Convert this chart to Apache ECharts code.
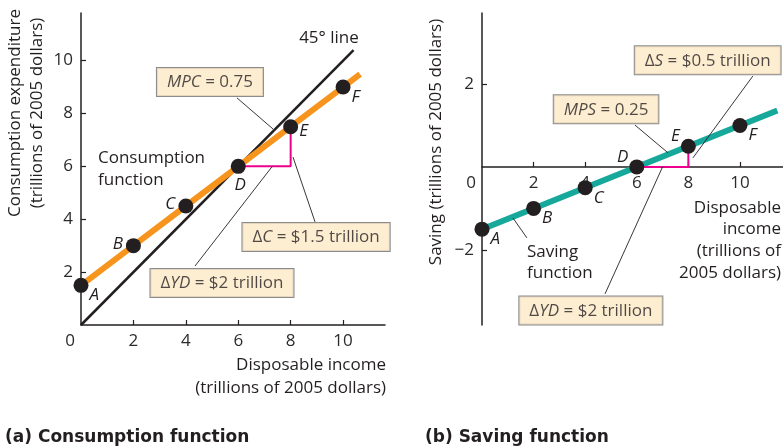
<!DOCTYPE html>
<html><head><meta charset="utf-8">
<script src="https://cdn.jsdelivr.net/npm/echarts@6/dist/echarts.min.js"></script>
<style>html,body{margin:0;padding:0;background:#fff}#c{width:783px;height:447px}</style>
</head><body><div id="c"></div>
<script>
// ---- data ----
const disposableIncome = [0, 2, 4, 6, 8, 10];
const consumption = [1.5, 3, 4.5, 6, 7.5, 9];
const saving = [-1.5, -1, -0.5, 0, 0.5, 1];
const pointNames = ['A', 'B', 'C', 'D', 'E', 'F'];
const consumptionLineEnd = [10.65, 9.49];
const line45End = [10.4, 10.4];
const savingLineEnd = [11.45, 1.36];
const xTicks = [0, 2, 4, 6, 8, 10];
const yTicksLeft = [2, 4, 6, 8, 10];
const yTicksRight = [-2, 2];

// ---- annotation anchors (data units) ----
const leftLeaders = [
  [[5.95, 8.59], [7.33, 7.41]],
  [[8.09, 6.35], [8.93, 3.9]],
  [[4.35, 2.23], [7.3, 6.0]]
];
const rightLeaders = [
  [[5.93, 1.01], [7.21, 0.34]],
  [[10.5, 2.19], [8.18, 0.22]],
  [[4.77, -3.06], [7.0, 0]],
  [[1.2, -1.23], [1.74, -1.71]]
];
const leftBoxes = [
  {at: [4.92, 9.19], text: '{i|MPC} = 0.75'},
  {at: [8.97, 3.33], text: 'Δ{i|C} = $1.5 trillion'},
  {at: [5.38, 1.59], text: 'Δ{i|YD} = $2 trillion'}
];
const rightBoxes = [
  {at: [4.81, 1.39], text: '{i|MPS} = 0.25'},
  {at: [8.75, 2.57], text: 'Δ{i|S} = $0.5 trillion'},
  {at: [4.22, -3.46], text: 'Δ{i|YD} = $2 trillion'}
];
// label placement for the points (style)
const leftLabelPos = [['right', [-2, 10]], ['left', [0, -2]], ['left', [0, -2]], ['bottom', [2, 0]], ['right', [-2, 4]], ['right', [-2, 10]]];
const rightLabelPos = [['right', [-2, 10]], ['right', [-2, 10]], ['right', [-2, 10]], ['left', [2, -10]], ['left', [2, -10]], ['right', [-2, 10]]];

const FONT = 'Open Sans';
const INK = '#231f20';
const ORANGE = '#f7941d';
const TEAL = '#16a99b';
const MAGENTA = '#ec008c';
const BOXFILL = '#fde8c6';

const chart = echarts.init(document.getElementById('c'), null, {renderer: 'canvas'});

function axisCommon(ticks, labels, zeroShift) {
  return {
    type: 'value',
    splitLine: {show: false},
    axisLine: {show: true, onZero: false, lineStyle: {color: INK, width: 1.5}},
    axisTick: {show: true, inside: true, length: 5, customValues: ticks, lineStyle: {color: INK, width: 1.2}},
    axisLabel: {
      customValues: labels, color: '#2b2b2b', fontFamily: FONT, fontSize: 17,
      formatter: v => v === 0 && zeroShift ? '{z|0}' : String(v).replace('-', '−'),
      rich: {z: {fontFamily: FONT, fontSize: 17, color: '#2b2b2b', padding: [0, zeroShift || 0, 0, 0]}}
    }
  };
}

const boxLabel = {
  show: true, position: 'inside', color: INK, fontFamily: FONT, fontSize: 17,
  backgroundColor: BOXFILL, borderColor: '#6d6e71', borderWidth: 1, padding: [6, 10, 5, 10],
  rich: {i: {fontFamily: FONT, fontSize: 17, fontStyle: 'italic', color: INK}}
};

function pointsSeries(xi, ys, pos) {
  return {
    type: 'scatter', xAxisIndex: xi, yAxisIndex: xi, symbolSize: 15, z: 10,
    itemStyle: {color: INK, opacity: 1},
    data: disposableIncome.map((x, i) => ({
      value: [x, ys[i]],
      label: {show: true, formatter: pointNames[i], position: pos[i][0], offset: pos[i][1], distance: 3,
        fontFamily: FONT, fontSize: 17, fontStyle: 'italic', color: INK}
    }))
  };
}

const rightYMin = -3.81, rightYMax = 3.71, rightGridH = 312;

const option = {
  animation: false,
  grid: [
    {left: 81, top: 13, width: 304, height: 312},
    {left: 482, top: 13, width: 301, height: rightGridH}
  ],
  xAxis: [
    Object.assign(axisCommon(xTicks.filter(v => v), xTicks, 22), {gridIndex: 0, min: 0, max: 11.6}),
    Object.assign(axisCommon(xTicks.filter(v => v), xTicks, 22), {gridIndex: 1, min: 0, max: 11.67,
      // put the horizontal axis on the zero line of the saving scale
      offset: -rightGridH * (0 - rightYMin) / (rightYMax - rightYMin)})
  ],
  yAxis: [
    Object.assign(axisCommon(yTicksLeft, yTicksLeft), {gridIndex: 0, min: 0, max: 11.8}),
    Object.assign(axisCommon(yTicksRight, yTicksRight), {gridIndex: 1, min: rightYMin, max: rightYMax})
  ],
  series: [
    {type: 'line', xAxisIndex: 0, yAxisIndex: 0, symbol: 'none', z: 3,
      lineStyle: {color: INK, width: 2.5}, data: [[0, 0], line45End]},
    {type: 'line', xAxisIndex: 0, yAxisIndex: 0, symbol: 'none', z: 4,
      lineStyle: {color: ORANGE, width: 6, cap: 'butt'},
      data: disposableIncome.map((x, i) => [x, consumption[i]]).concat([consumptionLineEnd])},
    {type: 'line', xAxisIndex: 0, yAxisIndex: 0, symbol: 'none', z: 5,
      lineStyle: {color: MAGENTA, width: 2},
      data: [[disposableIncome[3], consumption[3]], [disposableIncome[4], consumption[3]], [disposableIncome[4], consumption[4]]]},
    {type: 'lines', coordinateSystem: 'cartesian2d', xAxisIndex: 0, yAxisIndex: 0, z: 6,
      lineStyle: {color: INK, width: 0.9, opacity: 1},
      data: leftLeaders.map(c => ({coords: c}))},
    {type: 'scatter', xAxisIndex: 0, yAxisIndex: 0, symbolSize: 0, z: 20,
      data: leftBoxes.map(b => ({value: b.at, label: Object.assign({}, boxLabel, {formatter: b.text})}))},
    pointsSeries(0, consumption, leftLabelPos),

    {type: 'line', xAxisIndex: 1, yAxisIndex: 1, symbol: 'none', z: 4,
      lineStyle: {color: TEAL, width: 6, cap: 'butt'},
      data: disposableIncome.map((x, i) => [x, saving[i]]).concat([savingLineEnd])},
    {type: 'line', xAxisIndex: 1, yAxisIndex: 1, symbol: 'none', z: 5,
      lineStyle: {color: MAGENTA, width: 2},
      data: [[disposableIncome[3], saving[3]], [disposableIncome[4], saving[3]], [disposableIncome[4], saving[4]]]},
    {type: 'lines', coordinateSystem: 'cartesian2d', xAxisIndex: 1, yAxisIndex: 1, z: 6,
      lineStyle: {color: INK, width: 0.9, opacity: 1},
      data: rightLeaders.map(c => ({coords: c}))},
    {type: 'scatter', xAxisIndex: 1, yAxisIndex: 1, symbolSize: 0, z: 20,
      data: rightBoxes.map(b => ({value: b.at, label: Object.assign({}, boxLabel, {formatter: b.text})}))},
    pointsSeries(1, saving, rightLabelPos)
  ],
  graphic: [
    {type: 'text', x: 26, y: 113, rotation: Math.PI / 2,
      style: {text: 'Consumption expenditure\n(trillions of 2005 dollars)', align: 'center', verticalAlign: 'middle',
        font: '17px "Open Sans"', fill: INK, lineHeight: 22}},
    {type: 'text', x: 436, y: 142, rotation: Math.PI / 2,
      style: {text: 'Saving (trillions of 2005 dollars)', align: 'center', verticalAlign: 'middle',
        font: '17px "Open Sans"', fill: INK}},
    {type: 'text', x: 98, y: 147,
      style: {text: 'Consumption\nfunction', align: 'left', verticalAlign: 'top', font: '17px "Open Sans"', fill: INK, lineHeight: 22}},
    {type: 'text', x: 329, y: 38,
      style: {text: '45° line', align: 'center', verticalAlign: 'middle', font: '17px "Open Sans"', fill: INK}},
    {type: 'text', x: 386, y: 354,
      style: {text: 'Disposable income\n(trillions of 2005 dollars)', align: 'right', verticalAlign: 'top', font: '17px "Open Sans"', fill: INK, lineHeight: 23}},
    {type: 'text', x: 781, y: 197,
      style: {text: 'Disposable\nincome\n(trillions of\n2005 dollars)', align: 'right', verticalAlign: 'top', font: '17px "Open Sans"', fill: INK, lineHeight: 21.7}},
    {type: 'text', x: 527, y: 241,
      style: {text: 'Saving\nfunction', align: 'left', verticalAlign: 'top', font: '17px "Open Sans"', fill: INK, lineHeight: 21.5}},
    {type: 'text', x: 5, y: 438,
      style: {text: '(a) Consumption function', align: 'left', verticalAlign: 'middle', font: 'bold 17px "DejaVu Sans"', fill: INK}},
    {type: 'text', x: 425, y: 438,
      style: {text: '(b) Saving function', align: 'left', verticalAlign: 'middle', font: 'bold 17px "DejaVu Sans"', fill: INK}}
  ]
};
chart.setOption(option);
</script>
</body></html>
